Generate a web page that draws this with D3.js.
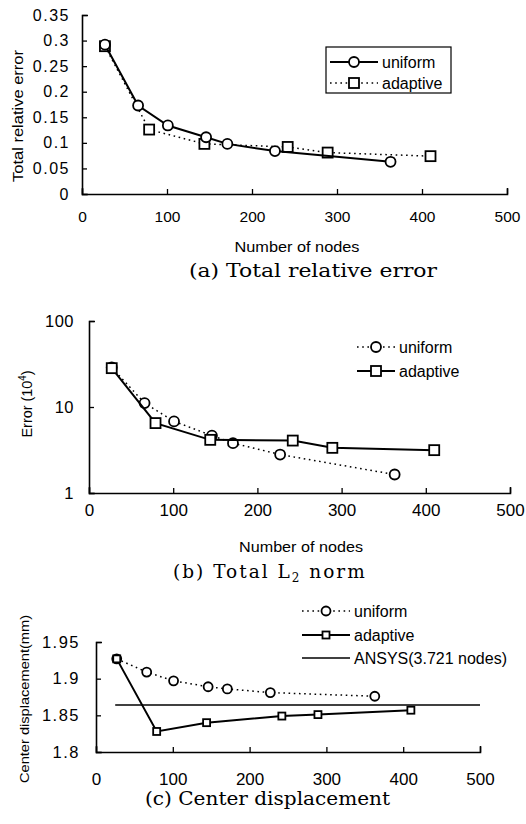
<!DOCTYPE html>
<html>
<head>
<meta charset="utf-8">
<script src="https://cdn.jsdelivr.net/npm/d3@7"></script>
<style>
  body { margin: 0; background: #fff; }
  svg { display: block; }
  text { font-family: "Liberation Sans", Arial, sans-serif; fill: #000; }
  .caption { font-family: "DejaVu Serif", "Liberation Serif", serif; }
</style>
</head>
<body>
<div id="container"></div>
<script>
/* DATA */
const uniformNodes  = [27, 66, 101, 146, 171, 227, 363];
const adaptiveNodes = [27, 79, 144, 242, 289, 410];

// (a) total relative error
const relErrUniform  = [0.292, 0.173, 0.134, 0.111, 0.098, 0.084, 0.063];
const relErrAdaptive = [0.289, 0.126, 0.098, 0.092, 0.081, 0.074];

// (b) total L2 norm
const l2Uniform  = [28.8, 11.1, 6.8, 4.65, 3.8, 2.8, 1.64];
const l2Adaptive = [28.3, 6.5, 4.15, 4.07, 3.35, 3.15];

// (c) center displacement
const dispUniform  = [1.927, 1.909, 1.897, 1.889, 1.886, 1.881, 1.876];
const dispAdaptive = [1.927, 1.828, 1.840, 1.849, 1.851, 1.857];
const ansysNodes = [25, 500];
const ansysValue = 1.864;

const xTicks = [0, 100, 200, 300, 400, 500];
const relTicks = [0, 0.05, 0.1, 0.15, 0.2, 0.25, 0.3, 0.35];
const l2Ticks = [1, 10, 100];
const dispTicks = [1.8, 1.85, 1.9, 1.95];

/* CONSTANTS */
const width = 526, height = 824;

const svg = d3.select("#container").append("svg")
  .attr("width", width)
  .attr("height", height);

const zip = (xs, ys) => xs.map((x, i) => [x, ys[i]]);

function drawAxes(x, y, yTicks, yFmt, o) {
  const xAxis = d3.axisBottom(x).tickValues(xTicks).tickFormat(d3.format("d"))
    .tickSizeInner(-5).tickSizeOuter(-6).tickPadding(o.xPad);
  const gx = svg.append("g")
    .attr("transform", `translate(0,${y.range()[0]})`)
    .call(xAxis);
  gx.selectAll("text").style("font-size", o.xFont + "px");

  const yAxis = d3.axisLeft(y).tickValues(yTicks).tickFormat(yFmt)
    .tickSizeInner(-5).tickSizeOuter(-6).tickPadding(o.yPad);
  const gy = svg.append("g")
    .attr("transform", `translate(${x.range()[0]},0)`)
    .call(yAxis);
  gy.selectAll("text").style("font-size", o.yFont + "px")
    .style("letter-spacing", o.yLS + "px");

  [gx, gy].forEach(g => {
    g.select(".domain").attr("stroke", "#000").attr("stroke-width", 1.6);
    g.selectAll(".tick line").attr("stroke", "#000").attr("stroke-width", 1.3);
    g.selectAll("text").attr("fill", "#000");
  });
}

function drawSeries(x, y, pts, s) {
  const line = d3.line().x(d => x(d[0])).y(d => y(d[1]));
  svg.append("path")
    .datum(pts)
    .attr("d", line)
    .attr("fill", "none")
    .attr("stroke", "#000")
    .attr("stroke-width", s.dotted ? 1.5 : 2)
    .attr("stroke-dasharray", s.dotted ? "1.6,3.6" : null);
  if (s.marker === "circle") {
    svg.selectAll(null).data(pts).join("circle")
      .attr("cx", d => x(d[0])).attr("cy", d => y(d[1]))
      .attr("r", s.size / 2)
      .attr("fill", "#fff").attr("stroke", "#000").attr("stroke-width", 1.8);
  } else if (s.marker === "square") {
    svg.selectAll(null).data(pts).join("rect")
      .attr("x", d => x(d[0]) - s.size / 2).attr("y", d => y(d[1]) - s.size / 2)
      .attr("width", s.size).attr("height", s.size)
      .attr("fill", "#fff").attr("stroke", "#000").attr("stroke-width", 1.8);
  }
}

function legendItem(x0, x1, yy, label, s) {
  svg.append("line")
    .attr("x1", x0).attr("x2", x1).attr("y1", yy).attr("y2", yy)
    .attr("stroke", "#000")
    .attr("stroke-width", s.dotted ? 1.5 : (s.marker ? 2 : 1.6))
    .attr("stroke-dasharray", s.dotted ? "1.6,3.6" : null);
  const cx = (x0 + x1) / 2;
  if (s.marker === "circle") {
    svg.append("circle").attr("cx", cx).attr("cy", yy).attr("r", s.size / 2)
      .attr("fill", "#fff").attr("stroke", "#000").attr("stroke-width", 1.8);
  } else if (s.marker === "square") {
    svg.append("rect").attr("x", cx - s.size / 2).attr("y", yy - s.size / 2)
      .attr("width", s.size).attr("height", s.size)
      .attr("fill", "#fff").attr("stroke", "#000").attr("stroke-width", 1.8);
  }
  svg.append("text")
    .attr("x", x1 + 4).attr("y", yy + 5.5)
    .style("font-size", "16px")
    .text(label);
}

function yTitle(cx, cy, len, size) {
  return svg.append("text")
    .attr("transform", `translate(${cx},${cy}) rotate(-90)`)
    .attr("text-anchor", "middle")
    .attr("textLength", len).attr("lengthAdjust", "spacingAndGlyphs")
    .style("font-size", size + "px");
}

function caption(x0, x1, yy, label) {
  return svg.append("text")
    .attr("class", "caption")
    .attr("x", x0).attr("y", yy)
    .attr("textLength", x1 - x0).attr("lengthAdjust", "spacingAndGlyphs")
    .style("font-size", "18px")
    .text(label);
}

/* (a) TOTAL RELATIVE ERROR */
const xA = d3.scaleLinear().domain([0, 500]).range([82, 507]);
const yA = d3.scaleLinear().domain([0, 0.35]).range([194, 15]);
drawAxes(xA, yA, relTicks, d => d3.format("")(d),
  { xPad: 17, xFont: 15.5, yPad: 12, yFont: 16, yLS: 1.5 });
drawSeries(xA, yA, zip(adaptiveNodes, relErrAdaptive), { dotted: true, marker: "square", size: 10 });
drawSeries(xA, yA, zip(uniformNodes, relErrUniform), { dotted: false, marker: "circle", size: 10 });

svg.append("rect")
  .attr("x", 326).attr("y", 47).attr("width", 125).attr("height", 46)
  .attr("fill", "#fff").attr("stroke", "#000").attr("stroke-width", 1.2);
legendItem(330, 378, 62, "uniform", { dotted: false, marker: "circle", size: 10 });
legendItem(330, 378, 83, "adaptive", { dotted: true, marker: "square", size: 10 });

yTitle(23, 116, 132, 14).text("Total relative error");
svg.append("text").attr("x", 297).attr("y", 252).attr("text-anchor", "middle")
  .attr("textLength", 125).attr("lengthAdjust", "spacingAndGlyphs")
  .style("font-size", "15px").text("Number of nodes");
caption(189, 437, 277, "(a) Total relative error");

/* (b) TOTAL L2 NORM */
const xB = d3.scaleLinear().domain([0, 500]).range([89, 510]);
const yB = d3.scaleLog().domain([1, 100]).range([493, 321]);
drawAxes(xB, yB, l2Ticks, d3.format("d"),
  { xPad: 11, xFont: 17, yPad: 15, yFont: 16.5, yLS: 0.5 });
drawSeries(xB, yB, zip(uniformNodes, l2Uniform), { dotted: true, marker: "circle", size: 10 });
drawSeries(xB, yB, zip(adaptiveNodes, l2Adaptive), { dotted: false, marker: "square", size: 10 });

legendItem(357, 395, 347, "uniform", { dotted: true, marker: "circle", size: 10 });
legendItem(357, 395, 371, "adaptive", { dotted: false, marker: "square", size: 10 });

const tB = yTitle(32, 404, 67, 15);
tB.append("tspan").text("Error (10");
tB.append("tspan").attr("dy", -6).style("font-size", "10px").text("4");
tB.append("tspan").attr("dy", 6).text(")");
svg.append("text").attr("x", 301).attr("y", 552).attr("text-anchor", "middle")
  .attr("textLength", 124).attr("lengthAdjust", "spacingAndGlyphs")
  .style("font-size", "15px").text("Number of nodes");
const cB = svg.append("text").attr("class", "caption")
  .attr("x", 173).attr("y", 578).style("font-size", "18.5px")
  .style("letter-spacing", "2px");
cB.append("tspan").text("(b) Total L");
cB.append("tspan").attr("dy", 4).style("font-size", "12px").text("2");
cB.append("tspan").attr("dy", -4).text(" norm");

/* (c) CENTER DISPLACEMENT */
const xC = d3.scaleLinear().domain([0, 500]).range([96, 480]);
const yC = d3.scaleLinear().domain([1.8, 1.95]).range([752, 642]);
drawAxes(xC, yC, dispTicks, d => d3.format("")(d),
  { xPad: 21, xFont: 17, yPad: 16, yFont: 16.5, yLS: 1.5 });
svg.append("path")
  .datum(ansysNodes.map(n => [n, ansysValue]))
  .attr("d", d3.line().x(d => xC(d[0])).y(d => yC(d[1])))
  .attr("stroke", "#000").attr("stroke-width", 1.6).attr("fill", "none");
drawSeries(xC, yC, zip(uniformNodes, dispUniform), { dotted: true, marker: "circle", size: 9 });
drawSeries(xC, yC, zip(adaptiveNodes, dispAdaptive), { dotted: false, marker: "square", size: 7 });

legendItem(302, 350, 611, "uniform", { dotted: true, marker: "circle", size: 9 });
legendItem(302, 350, 635, "adaptive", { dotted: false, marker: "square", size: 7 });
legendItem(302, 350, 658, "ANSYS(3.721 nodes)", { dotted: false, marker: null });

yTitle(29, 699, 168, 13).text("Center displacement(mm)");
caption(145, 390, 805, "(c) Center displacement");
</script>
</body>
</html>
